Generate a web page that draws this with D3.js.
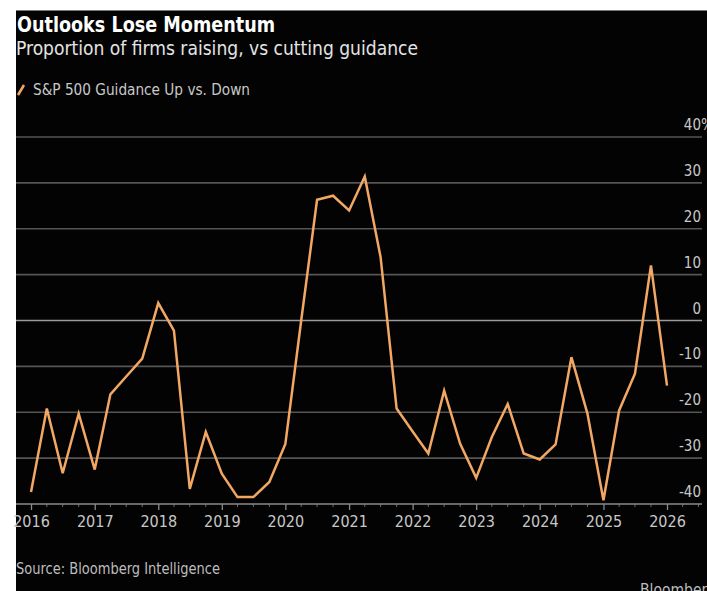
<!DOCTYPE html>
<html>
<head>
<meta charset="utf-8">
<script src="https://cdn.jsdelivr.net/npm/d3@7/dist/d3.min.js"></script>
<style>
  html, body { margin: 0; padding: 0; background: #fff; }
  svg { display: block; }
  text { font-family: "DejaVu Sans Condensed", "DejaVu Sans", sans-serif; }
</style>
</head>
<body>
<script>
// Quarterly dates of the series
const dates = [
  "2016-01-01","2016-04-01","2016-07-01","2016-10-01",
  "2017-01-01","2017-04-01","2017-07-01","2017-10-01",
  "2018-01-01","2018-04-01","2018-07-01","2018-10-01",
  "2019-01-01","2019-04-01","2019-07-01","2019-10-01",
  "2020-01-01","2020-04-01","2020-07-01","2020-10-01",
  "2021-01-01","2021-04-01","2021-07-01","2021-10-01",
  "2022-01-01","2022-04-01","2022-07-01","2022-10-01",
  "2023-01-01","2023-04-01","2023-07-01","2023-10-01",
  "2024-01-01","2024-04-01","2024-07-01","2024-10-01",
  "2025-01-01","2025-04-01","2025-07-01","2025-10-01",
  "2026-01-01"
];
// S&P 500 guidance up vs. down, percent
const guidance = [
  -37.4, -19.2, -33.3, -20.3,
  -32.5, -16.1, -12.2, -8.3,
  3.8, -2.2, -36.7, -24.3,
  -33.4, -38.5, -38.5, -35.2,
  -26.9, 0.0, 26.3, 27.2,
  24.0, 31.4, 13.8, -19.2,
  -24.2, -29.0, -15.3, -26.9,
  -34.3, -25.4, -18.2, -29.0,
  -30.3, -27.0, -8.0, -20.3,
  -39.2, -19.6, -11.6, 12.0,
  -14.2
];
const yTicks = [40, 30, 20, 10, 0, -10, -20, -30, -40];
const yearTicks = ["2016","2017","2018","2019","2020","2021","2022","2023","2024","2025","2026"];

const title = "Outlooks Lose Momentum";
const subtitle = "Proportion of firms raising, vs cutting guidance";
const seriesName = "S&P 500 Guidance Up vs. Down";
const source = "Source: Bloomberg Intelligence";

const W = 707, H = 591;
const parse = d3.timeParse("%Y-%m-%d");
const data = dates.map((d, i) => ({ date: parse(d), value: guidance[i] }));

const svg = d3.select("body").append("svg").attr("width", W).attr("height", H);

// dark panel
svg.append("rect").attr("x", 16).attr("y", 10).attr("width", W - 16).attr("height", H - 10).attr("fill", "#030303");
svg.append("line").attr("x1", 16).attr("x2", W).attr("y1", 10.5).attr("y2", 10.5).attr("stroke", "#777").attr("stroke-width", 1);

const x = d3.scaleTime()
  .domain([parse("2016-01-01"), parse("2026-01-01")])
  .range([31, 667]);
const y = d3.scaleLinear().domain([-40, 40]).range([504, 137]);

const plotLeft = 16, plotRight = 702;

// horizontal grid
svg.append("g").selectAll("line")
  .data(yTicks.filter(v => v !== -40))
  .join("line")
  .attr("x1", plotLeft).attr("x2", plotRight)
  .attr("y1", d => y(d)).attr("y2", d => y(d))
  .attr("stroke", d => d === 0 ? "#9a9a9a" : "#555")
  .attr("stroke-width", 1.6);

// y labels sitting above their gridlines
svg.append("g").selectAll("text")
  .data(yTicks)
  .join("text")
  .attr("x", 701)
  .attr("y", d => y(d) - 7)
  .attr("text-anchor", "end")
  .attr("fill", "#c8c8c8")
  .attr("font-size", 15)
  .text(d => d);
svg.append("text").attr("x", 701).attr("y", y(40) - 7)
  .attr("fill", "#c8c8c8").attr("font-size", 15).text("%");

// bottom axis
const xAxis = d3.axisBottom(x)
  .tickValues(yearTicks.map(s => parse(s + "-01-01")))
  .tickFormat(d3.timeFormat("%Y"))
  .tickSize(6)
  .tickPadding(6);
const gx = svg.append("g").attr("transform", `translate(0,${y(-40)})`).call(xAxis);
gx.select(".domain").remove();
gx.selectAll(".tick line").attr("stroke", "#8a8a8a").attr("stroke-width", 1.3);
gx.selectAll(".tick text").attr("fill", "#c8c8c8").attr("font-size", 16)
  .attr("font-family", "'DejaVu Sans Condensed', 'DejaVu Sans', sans-serif");

// quarter minor ticks
const minor = d3.timeMonth.every(3).range(parse("2016-01-01"), parse("2026-10-02"))
  .filter(d => d.getMonth() !== 0);
svg.append("g").selectAll("line").data(minor).join("line")
  .attr("x1", d => x(d)).attr("x2", d => x(d))
  .attr("y1", y(-40)).attr("y2", y(-40) + 3)
  .attr("stroke", "#6a6a6a").attr("stroke-width", 1);

svg.append("line").attr("x1", plotLeft).attr("x2", plotRight)
  .attr("y1", y(-40)).attr("y2", y(-40))
  .attr("stroke", "#8a8a8a").attr("stroke-width", 1.6);

// series line
const line = d3.line().x(d => x(d.date)).y(d => y(d.value));
svg.append("path").datum(data)
  .attr("d", line)
  .attr("fill", "none")
  .attr("stroke", "#f2a864")
  .attr("stroke-width", 2.5)
  .attr("stroke-linejoin", "miter");

// header
svg.append("text").attr("x", 17).attr("y", 32)
  .attr("fill", "#ffffff").attr("font-size", 21).attr("font-weight", "bold")
  .attr("textLength", 258).attr("lengthAdjust", "spacingAndGlyphs").text(title);
svg.append("text").attr("x", 16).attr("y", 55)
  .attr("fill", "#e4e4e4").attr("font-size", 19.5)
  .attr("textLength", 402).attr("lengthAdjust", "spacingAndGlyphs").text(subtitle);

// legend
svg.append("line").attr("x1", 18).attr("y1", 95).attr("x2", 24).attr("y2", 85)
  .attr("stroke", "#f2a864").attr("stroke-width", 2.5);
svg.append("text").attr("x", 33).attr("y", 95)
  .attr("fill", "#c8c8c8").attr("font-size", 15.5)
  .attr("textLength", 217).attr("lengthAdjust", "spacingAndGlyphs").text(seriesName);

// footer
svg.append("text").attr("x", 16).attr("y", 574)
  .attr("fill", "#bdbdbd").attr("font-size", 15.5)
  .attr("textLength", 204).attr("lengthAdjust", "spacingAndGlyphs").text(source);
svg.append("text").attr("x", 640).attr("y", 595)
  .attr("fill", "#bdbdbd").attr("font-size", 15.5).text("Bloomberg");
</script>
</body>
</html>
